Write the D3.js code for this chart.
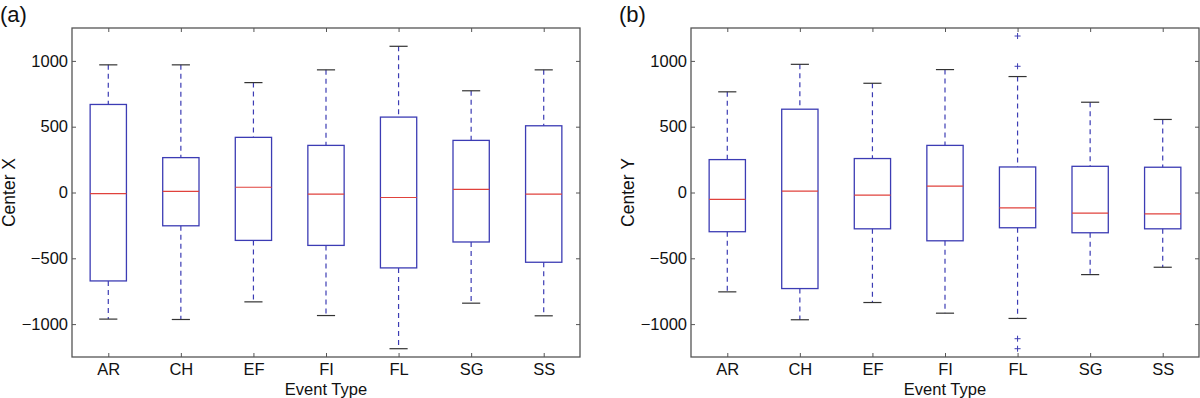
<!DOCTYPE html>
<html>
<head>
<meta charset="utf-8">
<script src="https://cdn.jsdelivr.net/npm/d3@7"></script>
<style>
body { margin: 0; background: #fff; }
text { font-family: Arial, "Liberation Sans", sans-serif; fill: #111; }
</style>
</head>
<body>
<script>
var categories = ["AR", "CH", "EF", "FI", "FL", "SG", "SS"];
var yTicks = [-1000, -500, 0, 500, 1000];

// (a) Center X
var xLower  = [-962, -965, -831, -935, -1187, -841, -937];
var xQ1     = [-672, -253, -364, -402, -573, -376, -530];
var xMedian = [-8, 8, 40, -13, -38, 23, -13];
var xQ3     = [669, 265, 419, 358, 573, 396, 507];
var xUpper  = [970, 970, 835, 932, 1111, 773, 932];
var xOutliers = [];

// (b) Center Y
var yLower  = [-755, -967, -836, -917, -957, -624, -568];
var yQ1     = [-298, -730, -276, -367, -268, -306, -276];
var yMedian = [-53, 10, -20, 48, -117, -157, -162];
var yQ3     = [250, 633, 258, 358, 194, 199, 192];
var yUpper  = [765, 974, 830, 934, 881, 686, 555];
var yOutliers = [["FL", 1189], ["FL", 959], ["FL", -1111], ["FL", -1187]];

var width = 1200,
    height = 398,
    plotTop = 28,
    plotBottom = 357;

var boxColor = "#3c3cb4",
    medColor = "#e0423c",
    axisColor = "#555";

var svg = d3.select("body").append("svg")
    .attr("width", width)
    .attr("height", height);

var y = d3.scaleLinear().domain([-1250, 1250]).range([plotBottom, plotTop]);

function drawPanel(left, right, tag, title, lo, q1, med, q3, hi, outliers) {
    var x = d3.scalePoint().domain(categories).range([left, right]).padding(0.5);
    var step = x.step();
    var g = svg.append("g");

    // ticks (inside, on all four sides)
    var axes = [
	g.append("g").attr("transform", "translate(0," + plotBottom + ")")
	    .call(d3.axisBottom(x).tickSizeInner(-4).tickSizeOuter(0).tickPadding(6)),
	g.append("g").attr("transform", "translate(0," + plotTop + ")")
	    .call(d3.axisTop(x).tickSizeInner(-4).tickSizeOuter(0).tickFormat("")),
	g.append("g").attr("transform", "translate(" + left + ",0)")
	    .call(d3.axisLeft(y).tickValues(yTicks).tickFormat(d3.format("d"))
		  .tickSizeInner(-4).tickSizeOuter(0).tickPadding(4)),
	g.append("g").attr("transform", "translate(" + right + ",0)")
	    .call(d3.axisRight(y).tickValues(yTicks).tickFormat("")
		  .tickSizeInner(-4).tickSizeOuter(0))
    ];
    axes.forEach(function(a) {
	a.select(".domain").remove();
	a.selectAll("line").attr("stroke", axisColor);
	a.selectAll("text").attr("font-size", 16.5).attr("fill", "#111")
	    .style("font-family", "Arial, 'Liberation Sans', sans-serif");
    });

    g.append("rect")
	.attr("x", left).attr("y", plotTop)
	.attr("width", right - left).attr("height", plotBottom - plotTop)
	.attr("fill", "none").attr("stroke", axisColor).attr("stroke-width", 1.3);

    var boxes = g.selectAll(".box").data(categories).enter().append("g")
	.attr("class", "box");

    // dashed whiskers
    boxes.append("line")
	.attr("x1", function(d) { return x(d); }).attr("x2", function(d) { return x(d); })
	.attr("y1", function(d, i) { return y(hi[i]); })
	.attr("y2", function(d, i) { return y(q3[i]); })
	.attr("stroke", boxColor).attr("stroke-width", 1.2).attr("stroke-dasharray", "5,4");
    boxes.append("line")
	.attr("x1", function(d) { return x(d); }).attr("x2", function(d) { return x(d); })
	.attr("y1", function(d, i) { return y(q1[i]); })
	.attr("y2", function(d, i) { return y(lo[i]); })
	.attr("stroke", boxColor).attr("stroke-width", 1.2).attr("stroke-dasharray", "5,4");

    // whisker caps
    [hi, lo].forEach(function(arr) {
	boxes.append("line")
	    .attr("x1", function(d) { return x(d) - step / 8; })
	    .attr("x2", function(d) { return x(d) + step / 8; })
	    .attr("y1", function(d, i) { return y(arr[i]); })
	    .attr("y2", function(d, i) { return y(arr[i]); })
	    .attr("stroke", "#333").attr("stroke-width", 1.2);
    });

    boxes.append("rect")
	.attr("x", function(d) { return x(d) - step / 4; })
	.attr("y", function(d, i) { return y(q3[i]); })
	.attr("width", step / 2)
	.attr("height", function(d, i) { return y(q1[i]) - y(q3[i]); })
	.attr("fill", "none").attr("stroke", boxColor).attr("stroke-width", 1.3);

    boxes.append("line")
	.attr("x1", function(d) { return x(d) - step / 4; })
	.attr("x2", function(d) { return x(d) + step / 4; })
	.attr("y1", function(d, i) { return y(med[i]); })
	.attr("y2", function(d, i) { return y(med[i]); })
	.attr("stroke", medColor).attr("stroke-width", 1.2);

    g.selectAll(".outlier").data(outliers).enter().append("path")
	.attr("class", "outlier")
	.attr("transform", function(d) { return "translate(" + x(d[0]) + "," + y(d[1]) + ")"; })
	.attr("d", "M-3,0H3M0,-3V3")
	.attr("stroke", boxColor).attr("stroke-width", 1);

    g.append("text")
	.attr("x", (left + right) / 2).attr("y", 395)
	.attr("text-anchor", "middle").attr("font-size", 16.5)
	.text("Event Type");

    g.append("text")
	.attr("transform", "translate(" + (left - 57) + "," + ((plotTop + plotBottom) / 2) + ") rotate(-90)")
	.attr("text-anchor", "middle").attr("font-size", 17.5)
	.text(title);

    svg.append("text")
	.attr("x", left - 72).attr("y", 22)
	.attr("font-size", 22)
	.text(tag);
}

drawPanel(72, 580, "(a)", "Center X", xLower, xQ1, xMedian, xQ3, xUpper, xOutliers);
drawPanel(691, 1199, "(b)", "Center Y", yLower, yQ1, yMedian, yQ3, yUpper, yOutliers);
</script>
</body>
</html>
